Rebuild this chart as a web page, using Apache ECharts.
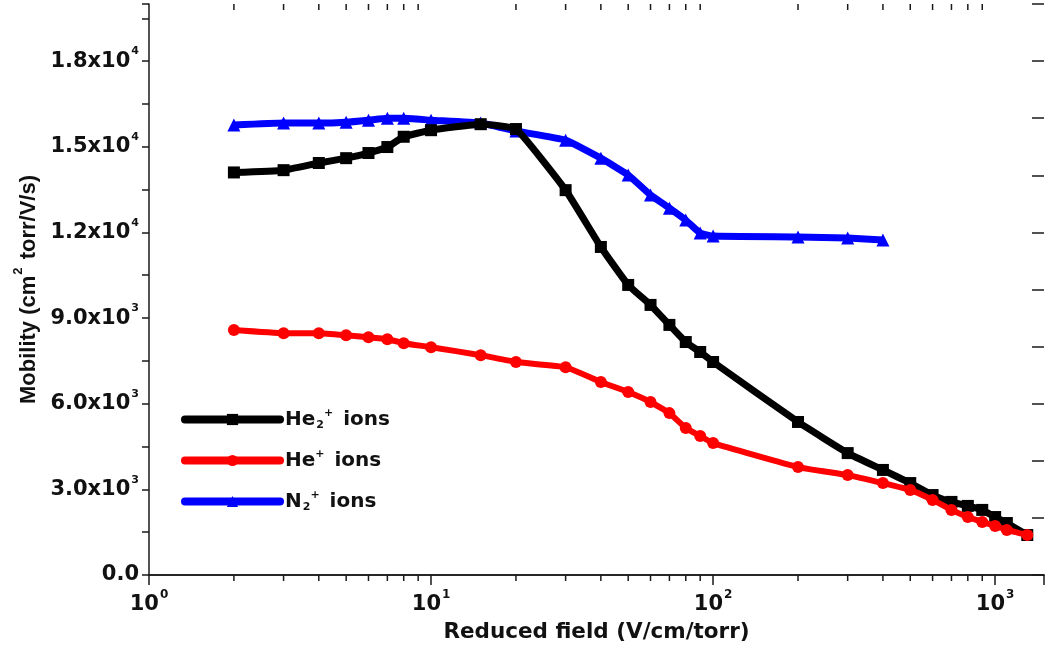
<!DOCTYPE html>
<html>
<head>
<meta charset="utf-8">
<script src="https://cdn.jsdelivr.net/npm/echarts@6/dist/echarts.min.js"></script>
<style>
  html, body { margin: 0; padding: 0; background: #fff; }
  #chart { width: 1047px; height: 648px; }
</style>
</head>
<body>
<div id="chart"></div>
<script>
// ---- data ----
const he2Field = [2, 3, 4, 5, 6, 7, 8, 10, 15, 20, 30, 40, 50, 60, 70, 80, 90, 100, 200, 300, 400, 500, 600, 700, 800, 900, 1000, 1100, 1300];
const he2Mobility = [14100, 14180, 14430, 14600, 14780, 14990, 15350, 15580, 15790, 15620, 13480, 11490, 10160, 9460, 8760, 8160, 7810, 7460, 5360, 4270, 3680, 3220, 2800, 2560, 2420, 2280, 2030, 1820, 1400];

const heField = [2, 3, 4, 5, 6, 7, 8, 10, 15, 20, 30, 40, 50, 60, 70, 80, 90, 100, 200, 300, 400, 500, 600, 700, 800, 900, 1000, 1100, 1300];
const heMobility = [8580, 8470, 8470, 8400, 8330, 8260, 8120, 7980, 7700, 7460, 7280, 6760, 6410, 6060, 5670, 5150, 4870, 4620, 3780, 3500, 3220, 2980, 2630, 2280, 2030, 1860, 1720, 1580, 1400];

const n2Field = [2, 3, 4, 5, 6, 7, 8, 10, 15, 20, 30, 40, 50, 60, 70, 80, 90, 100, 200, 300, 400];
const n2Mobility = [15760, 15830, 15830, 15860, 15930, 16000, 16000, 15930, 15830, 15550, 15230, 14600, 14010, 13310, 12850, 12430, 11980, 11870, 11840, 11800, 11730];

const seriesNames = ['He2+ ions', 'He+ ions', 'N2+ ions'];
const legendLabels = ['He{sub|2}{sup|+} ions', 'He{sup|+} ions', 'N{sub|2}{sup|+} ions'];

const yTickValues = [0, 3000, 6000, 9000, 12000, 15000, 18000];
const yTickMantissa = ['0.0', '3.0x10', '6.0x10', '9.0x10', '1.2x10', '1.5x10', '1.8x10'];
const yTickExponent = ['', '3', '3', '3', '4', '4', '4'];

const xDecades = [1, 10, 100, 1000];
const xDecadeExponent = ['0', '1', '2', '3'];
const xMinorValues = [2, 3, 4, 5, 6, 7, 8, 9, 20, 30, 40, 50, 60, 70, 80, 90, 200, 300, 400, 500, 600, 700, 800, 900];

// ---- chart ----
const FONT = 'DejaVu Sans';
const frameColor = '#1a1a1a';
const chart = echarts.init(document.getElementById('chart'), null, { renderer: 'canvas' });

function zip(xs, ys) { return xs.map((x, i) => [x, ys[i]]); }

const option = {
  animation: false,
  backgroundColor: '#fff',
  grid: { left: 149, right: 0, top: 4, bottom: 73, containLabel: false },
  legend: {
    orient: 'vertical',
    left: 176,
    top: 403,
    itemWidth: 95,
    itemHeight: 14,
    itemGap: 18,
    data: seriesNames,
    lineStyle: { width: 8, cap: 'round' },
    formatter: name => legendLabels[seriesNames.indexOf(name)],
    textStyle: {
      fontFamily: FONT, fontWeight: 'bold', fontSize: 20, color: '#111',
      lineHeight: 23,
      rich: {
        sub: { fontFamily: FONT, fontWeight: 'bold', fontSize: 11, verticalAlign: 'bottom', lineHeight: 23, padding: [0, 0, 0, 1] },
        sup: { fontFamily: FONT, fontWeight: 'bold', fontSize: 11, verticalAlign: 'top', lineHeight: 23, padding: [0, 3, 0, 0] }
      }
    }
  },
  xAxis: [
    {
      type: 'log', logBase: 10, min: 1, max: 1490, position: 'bottom',
      name: 'Reduced field (V/cm/torr)', nameLocation: 'middle', nameGap: 46,
      nameTextStyle: { fontFamily: FONT, fontWeight: 'bold', fontSize: 21.5, color: '#111' },
      axisLine: { show: true, lineStyle: { color: frameColor, width: 1.5 } },
      axisTick: { show: true, inside: false, length: 10, lineStyle: { color: frameColor, width: 1.5 } },
      splitLine: { show: false },
      axisLabel: {
        margin: 18,
        formatter: v => {
          const i = xDecades.findIndex(d => Math.abs(d - v) / d < 1e-6);
          return i < 0 ? '' : '{b|10}{s|' + xDecadeExponent[i] + '}';
        },
        rich: {
          b: { fontFamily: FONT, fontWeight: 'bold', fontSize: 21, color: '#111', lineHeight: 24 },
          s: { fontFamily: FONT, fontWeight: 'bold', fontSize: 12, color: '#111', verticalAlign: 'top', lineHeight: 24, padding: [-4, 0, 0, 1] }
        }
      }
    },
    {
      type: 'log', logBase: 10, min: 1, max: 1490, position: 'top',
      axisLine: { show: true, lineStyle: { color: frameColor, width: 1.5 } },
      axisTick: { show: true, inside: true, length: 10, lineStyle: { color: frameColor, width: 1.5 } },
      axisLabel: { show: false },
      splitLine: { show: false }
    }
  ],
  yAxis: [
    {
      type: 'value', min: 0, max: 20000, interval: 1500, position: 'left',
      name: 'Mobility (cm{sup|2} torr/V/s)', nameLocation: 'middle', nameGap: 98, nameRotate: 90,
      nameTextStyle: {
        fontFamily: 'Liberation Sans', fontWeight: 'bold', fontSize: 22, color: '#111',
        rich: {
          sup: { fontFamily: 'Liberation Sans', fontWeight: 'bold', fontSize: 13, verticalAlign: 'top', padding: [-6, 2, 0, 1] }
        }
      },
      axisLine: { show: true, lineStyle: { color: frameColor, width: 1.5 } },
      axisTick: { show: true, inside: false, length: 7, lineStyle: { color: frameColor, width: 1.5 } },
      splitLine: { show: false },
      axisLabel: {
        margin: 10,
        formatter: v => {
          const i = yTickValues.indexOf(v);
          if (i < 0) return '';
          return '{b|' + yTickMantissa[i] + '}' + (yTickExponent[i] ? '{s|' + yTickExponent[i] + '}' : '');
        },
        rich: {
          b: { fontFamily: FONT, fontWeight: 'bold', fontSize: 21, color: '#111', lineHeight: 24 },
          s: { fontFamily: FONT, fontWeight: 'bold', fontSize: 11, color: '#111', verticalAlign: 'top', lineHeight: 24, padding: [-3, 0, 0, 1] }
        }
      }
    },
    {
      type: 'value', min: 0, max: 20000, interval: 2000, position: 'right',
      axisLine: { show: false },
      axisTick: { show: true, inside: true, length: 12, lineStyle: { color: frameColor, width: 1.5 } },
      axisLabel: { show: false },
      splitLine: { show: false }
    }
  ],
  series: [
    {
      name: seriesNames[0], type: 'line', xAxisIndex: 0, yAxisIndex: 0,
      data: zip(he2Field, he2Mobility),
      smooth: 0.12,
      symbol: 'rect', symbolSize: 12,
      lineStyle: { color: '#000000', width: 7 },
      itemStyle: { color: '#000000' },
      z: 3
    },
    {
      name: seriesNames[1], type: 'line', xAxisIndex: 0, yAxisIndex: 0,
      data: zip(heField, heMobility),
      smooth: 0.12,
      symbol: 'circle', symbolSize: 12,
      lineStyle: { color: '#ff0000', width: 6 },
      itemStyle: { color: '#ff0000' },
      z: 4
    },
    {
      name: seriesNames[2], type: 'line', xAxisIndex: 0, yAxisIndex: 0,
      data: zip(n2Field, n2Mobility),
      smooth: 0.12,
      symbol: 'triangle', symbolSize: 13,
      lineStyle: { color: '#0000ff', width: 7 },
      itemStyle: { color: '#0000ff' },
      z: 2
    }
  ]
};

chart.setOption(option);

// minor ticks on the log axes (2..9 per decade), positioned via the axis scale
const yBottom = chart.convertToPixel({ yAxisIndex: 0 }, 0);
const yTop = chart.convertToPixel({ yAxisIndex: 0 }, 20000);
const tickGraphics = [];
xMinorValues.forEach(v => {
  const x = chart.convertToPixel({ xAxisIndex: 0 }, v);
  tickGraphics.push({
    type: 'line', silent: true,
    shape: { x1: x, y1: yBottom, x2: x, y2: yBottom + 6 },
    style: { stroke: frameColor, lineWidth: 1.5 }
  });
  tickGraphics.push({
    type: 'line', silent: true,
    shape: { x1: x, y1: yTop, x2: x, y2: yTop + 6 },
    style: { stroke: frameColor, lineWidth: 1.5 }
  });
});
chart.setOption({ graphic: tickGraphics });
</script>
</body>
</html>
